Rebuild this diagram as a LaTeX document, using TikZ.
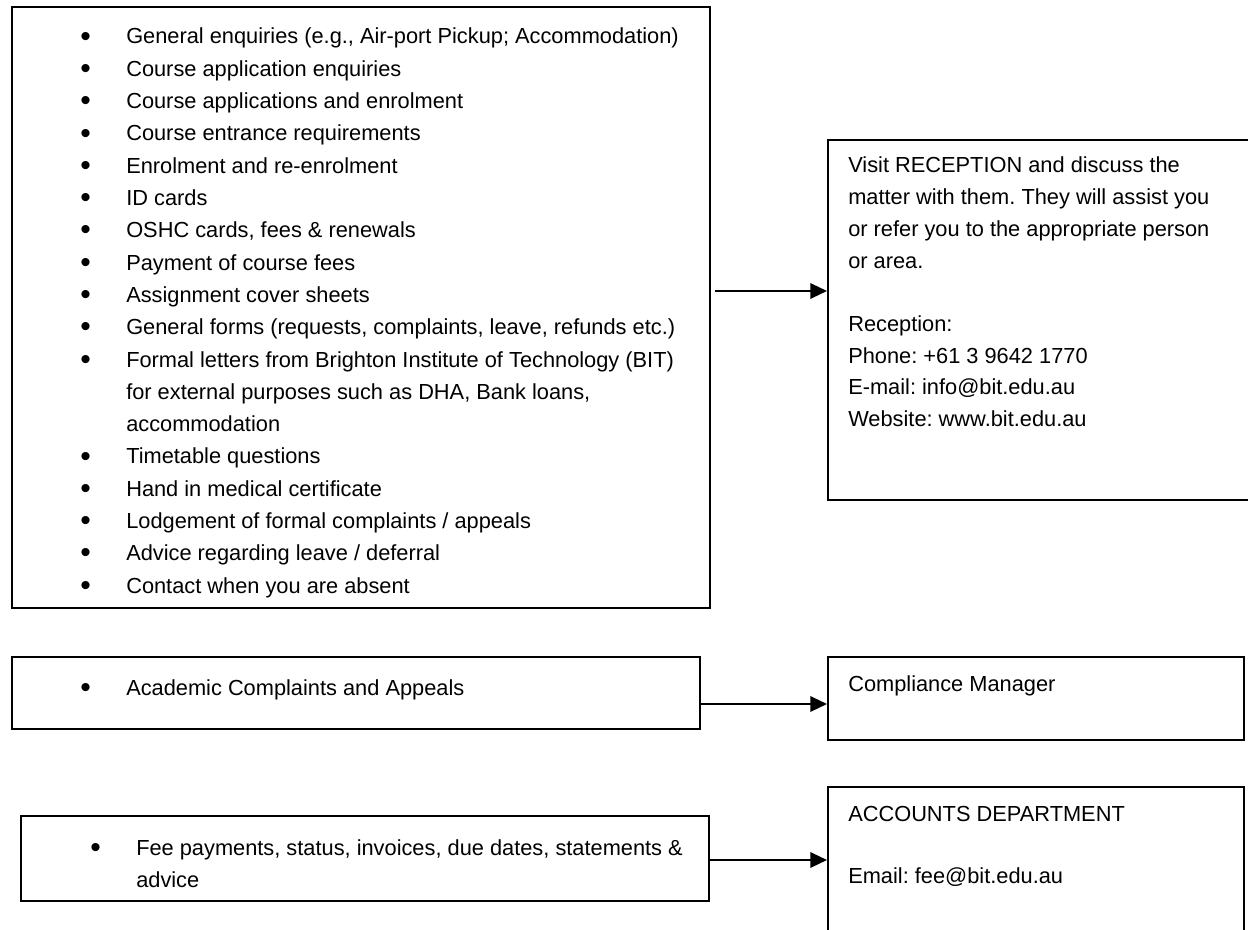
\documentclass[tikz,border=0pt]{standalone}
\usepackage{fontspec}
\setmainfont{Liberation Sans}
\usetikzlibrary{arrows.meta}

\newcommand{\blt}{\makebox[34.5pt][l]{\raisebox{-1.6pt}{\fontsize{22.5}{22.5}\selectfont\textbullet}}}
\newcommand{\cont}{\hspace*{34.5pt}}

\begin{document}
\frenchspacing
\begin{tikzpicture}[x=0.75pt,y=0.75pt,yscale=-1,xscale=1,
    box/.style={draw, line width=1.5pt, rectangle, inner sep=0pt, anchor=north west},
    txt/.style={anchor=base west, inner sep=0pt, font=\fontsize{16.35}{19}\selectfont},
    flow/.style={line width=1.7pt, -{Triangle[length=12.5pt,width=11.5pt]}}]
        \useasboundingbox (0,0) rectangle (1248,930);

        %Shapes: Rectangles
        \node[box, minimum width=523.5pt, minimum height=450.75pt] (general) at (11,6) {};
        \node[box, minimum width=317.25pt, minimum height=270pt] (reception) at (827,139) {};
        \node[box, minimum width=516pt, minimum height=54pt] (academic) at (11,656) {};
        \node[box, minimum width=312pt, minimum height=62.25pt] (compliance) at (827,656) {};
        \node[box, minimum width=516pt, minimum height=63.75pt] (fees) at (20,815) {};
        \node[box, minimum width=312pt, minimum height=127.5pt] (accounts) at (827,786) {};

        % Text Node
        \foreach \txt [count=\i from 0] in {{\blt General enquiries (e.g., Air-port Pickup; Accommodation)},
            {\blt Course application enquiries}, {\blt Course applications and enrolment},
            {\blt Course entrance requirements}, {\blt Enrolment and re-enrolment},
            {\blt ID cards}, {\blt OSHC cards, fees \& renewals}, {\blt Payment of course fees},
            {\blt Assignment cover sheets},
            {\blt General forms (requests, complaints, leave, refunds etc.)},
            {\blt Formal letters from Brighton Institute of Technology (BIT)},
            {\cont for external purposes such as DHA, Bank loans,}, {\cont accommodation},
            {\blt Timetable questions}, {\blt Hand in medical certificate},
            {\blt Lodgement of formal complaints / appeals}, {\blt Advice regarding leave / deferral},
            {\blt Contact when you are absent}}
            \node[txt] (g\i) at (80,{44+32.3*\i}) {\txt};
        % Text Node
        \foreach \txt [count=\i from 0] in {{Visit RECEPTION and discuss the},
            {matter with them. They will assist you}, {or refer you to the appropriate person},
            {or area.}, {}, {Reception:}, {Phone: +61 3 9642 1770},
            {E-mail: info@bit.edu.au}, {Website: www.bit.edu.au}}
            \node[txt] (r\i) at (848,{173+31.7*\i}) {\txt};
        % Text Node
        \node[txt] (acadtext) at (80,695) {\blt Academic Complaints and Appeals};
        \node[txt] (comptext) at (848,691) {Compliance Manager};
        \node[txt] (feetext) at (90,855) {\blt Fee payments, status, invoices, due dates, statements \&};
        \node[txt] (feetext2) at (90,887) {\cont advice};
        \node[txt] (acctext) at (848,821) {ACCOUNTS DEPARTMENT};
        \node[txt] (acctext2) at (848,883) {Email: fee@bit.edu.au};

        %Straight Lines
        \coordinate (a1) at (715,291);
        \coordinate (a2) at (academic.east |- 0,704);
        \coordinate (a3) at (fees.east |- 0,860);
        \draw[flow] (a1) -- (a1 -| reception.west);
        \draw[flow] (a2) -- (a2 -| compliance.west);
        \draw[flow] (a3) -- (a3 -| accounts.west);

    \end{tikzpicture}
\end{document}
